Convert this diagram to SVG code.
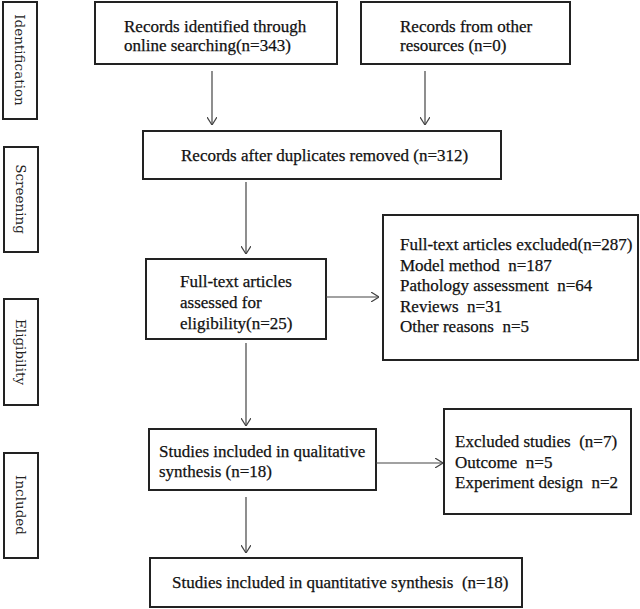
<svg xmlns="http://www.w3.org/2000/svg" width="640" height="609" viewBox="0 0 640 609">
<style>
.box{fill:#fff;stroke:#222;stroke-width:2}
.side{fill:#fff;stroke:#222;stroke-width:2}
.t{font-family:"Liberation Serif","Times New Roman",serif;font-size:17px;fill:#111;stroke:#111;stroke-width:0.25;white-space:pre}
.s{font-family:"DejaVu Serif",serif;font-size:13.5px;fill:#222}
.c{stroke:#444;stroke-width:1.2;fill:none}
</style>
<defs>
<marker id="ah" markerUnits="userSpaceOnUse" viewBox="0 0 8 10" refX="8" refY="5" markerWidth="8" markerHeight="10" orient="auto">
<path d="M0,0 L8,5 L0,10" fill="none" stroke="#444" stroke-width="1.2"/>
</marker>
</defs>
<rect width="640" height="609" fill="#fff"/>
<g id="stage-identification"><rect class="side" x="3" y="2" width="34" height="117"/><text class="s" transform="translate(15,60) rotate(90)" text-anchor="middle">Identification</text></g>
<g id="stage-screening"><rect class="side" x="4" y="147" width="34" height="105"/><text class="s" transform="translate(16,199) rotate(90)" text-anchor="middle">Screening</text></g>
<g id="stage-eligibility"><rect class="side" x="4" y="299" width="34" height="106"/><text class="s" transform="translate(16,352) rotate(90)" text-anchor="middle">Eligibility</text></g>
<g id="stage-included"><rect class="side" x="4" y="453" width="34" height="105"/><text class="s" transform="translate(16,505) rotate(90)" text-anchor="middle">Included</text></g>
<g id="n-online"><rect class="box" x="95" y="2" width="242" height="62"/><text class="t" x="124" y="32">Records identified through</text><text class="t" x="124" y="51">online searching(n=343)</text></g>
<g id="n-other"><rect class="box" x="361" y="2" width="209" height="62"/><text class="t" x="400" y="32">Records from other</text><text class="t" x="400" y="51">resources (n=0)</text></g>
<g id="n-dup"><rect class="box" x="143" y="131" width="358" height="48"/><text class="t" x="181" y="161">Records after duplicates removed (n=312)</text></g>
<g id="n-fulltext"><rect class="box" x="146" y="259" width="180" height="80"/><text class="t" x="180" y="287">Full-text articles</text><text class="t" x="180" y="308">assessed for</text><text class="t" x="180" y="329">eligibility(n=25)</text></g>
<g id="n-excl1" xml:space="preserve"><rect class="box" x="383" y="215" width="255" height="145"/><text class="t" x="400" y="250">Full-text articles excluded(n=287)</text><text class="t" x="400" y="271">Model method  n=187</text><text class="t" x="400" y="291">Pathology assessment  n=64</text><text class="t" x="400" y="312">Reviews  n=31</text><text class="t" x="400" y="332">Other reasons  n=5</text></g>
<g id="n-qual"><rect class="box" x="149" y="429" width="227" height="61"/><text class="t" x="159" y="457">Studies included in qualitative</text><text class="t" x="159" y="477">synthesis (n=18)</text></g>
<g id="n-excl2" xml:space="preserve"><rect class="box" x="444" y="409" width="187" height="105"/><text class="t" x="455" y="447">Excluded studies  (n=7)</text><text class="t" x="455" y="468">Outcome  n=5</text><text class="t" x="455" y="488">Experiment design  n=2</text></g>
<g id="n-quant" xml:space="preserve"><rect class="box" x="150" y="558" width="372" height="49"/><text class="t" x="172" y="588">Studies included in quantitative synthesis  (n=18)</text></g>
<g id="connectors">
<line class="c" x1="212" y1="71" x2="212" y2="125" marker-end="url(#ah)"/>
<line class="c" x1="425" y1="71" x2="425" y2="125" marker-end="url(#ah)"/>
<line class="c" x1="246" y1="182" x2="246" y2="254" marker-end="url(#ah)"/>
<line class="c" x1="326" y1="297" x2="379" y2="297" marker-end="url(#ah)"/>
<line class="c" x1="246" y1="343" x2="246" y2="426" marker-end="url(#ah)"/>
<line class="c" x1="376" y1="463" x2="443" y2="463" marker-end="url(#ah)"/>
<line class="c" x1="246" y1="497" x2="246" y2="553" marker-end="url(#ah)"/>
</g>
</svg>
